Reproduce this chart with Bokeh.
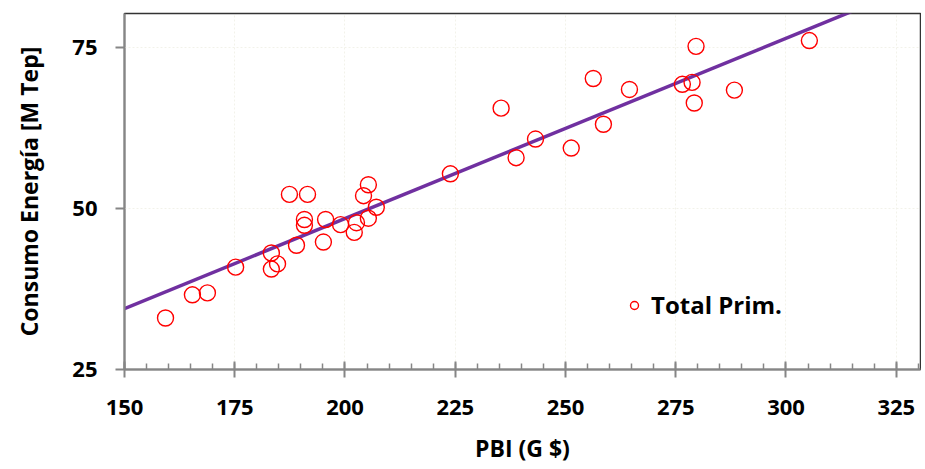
import numpy as np
from bokeh.plotting import figure
from bokeh.models import Range1d, FixedTicker, Legend, LegendItem
from bokeh.embed import file_html
from bokeh.resources import INLINE

# PBI (G $) vs primary energy consumption (M Tep)
pbi = [159.3, 165.4, 168.8, 175.2, 183.3, 183.3, 184.7, 187.4, 189.0, 190.8,
       190.8, 191.5, 195.1, 195.6, 199.0, 202.1, 202.6, 204.2, 205.3, 205.3,
       207.1, 223.9, 235.4, 238.8, 243.2, 251.3, 256.3, 258.6, 264.5, 276.5,
       278.7, 279.2, 279.6, 288.3, 305.3]
energia = [33.0, 36.6, 36.9, 40.9, 40.6, 43.1, 41.4, 52.2, 44.3, 48.3,
           47.4, 52.2, 44.8, 48.3, 47.5, 46.3, 47.8, 52.0, 53.7, 48.5,
           50.2, 55.4, 65.6, 57.9, 60.8, 59.4, 70.2, 63.1, 68.5, 69.3,
           69.6, 66.4, 75.2, 68.4, 76.1]
x_ticks = [150, 175, 200, 225, 250, 275, 300, 325]
x_minor = list(range(150, 331, 5))
y_ticks = [25, 50, 75]

FONT = "Open Sans"

p = figure(width=921, height=469, output_backend="svg", toolbar_location=None,
           x_range=Range1d(150, 330.5), y_range=Range1d(25, 80.3),
           min_border_left=124, min_border_top=13, min_border_right=1,
           min_border_bottom=100)
p.xgrid.grid_line_color = "#f2f2ea"
p.ygrid.grid_line_color = "#f2f2ea"
p.xgrid.grid_line_dash = "2 2"
p.ygrid.grid_line_dash = "2 2"
p.outline_line_color = "#333333"
p.outline_line_width = 1.5

# trend line from least squares fit
k, b = np.polyfit(pbi, energia, 1)
lx = np.array([150, 330.5])
p.line(lx, k * lx + b, line_color="#7030A0", line_width=3.5)

r = p.scatter(pbi, energia, marker="circle", size=16, fill_color=None,
              line_color="red", line_width=1.4)

p.xaxis.ticker = FixedTicker(ticks=x_ticks, minor_ticks=x_minor)
p.yaxis.ticker = FixedTicker(ticks=y_ticks)
p.xaxis.axis_label = "PBI (G $)"
p.yaxis.axis_label = "Consumo Energía [M Tep]"
for ax in (p.xaxis, p.yaxis):
    ax.axis_label_text_font = FONT
    ax.axis_label_text_font_style = "bold"
    ax.axis_label_text_font_size = "23px"
    ax.major_label_text_font = FONT
    ax.major_label_text_font_style = "bold"
    ax.major_label_text_font_size = "22px"
    ax.major_label_text_color = "black"
    ax.axis_label_text_color = "black"
    ax.axis_line_color = "#868686"
    ax.axis_line_width = 2
    ax.major_tick_line_color = "#868686"
    ax.major_tick_line_width = 2
p.xaxis.major_tick_in = 8
p.xaxis.major_tick_out = 8
p.xaxis.minor_tick_in = 6
p.xaxis.minor_tick_out = 0
p.xaxis.minor_tick_line_color = "#868686"
p.xaxis.minor_tick_line_width = 1.5
p.yaxis.major_tick_in = 0
p.yaxis.major_tick_out = 9
p.yaxis.minor_tick_line_color = None
p.xaxis.major_label_standoff = 22
p.xaxis.axis_label_standoff = 14
p.yaxis.major_label_standoff = 18
p.yaxis.axis_label_standoff = 24

legend = Legend(items=[LegendItem(label="Total Prim.", renderers=[r])],
                location=(498, 48), border_line_color=None,
                background_fill_alpha=0,
                label_text_font=FONT, label_text_font_style="bold",
                label_text_font_size="24px", label_text_color="black",
                glyph_width=24)
p.add_layout(legend)

open("out.html", "w").write(file_html(p, INLINE))
